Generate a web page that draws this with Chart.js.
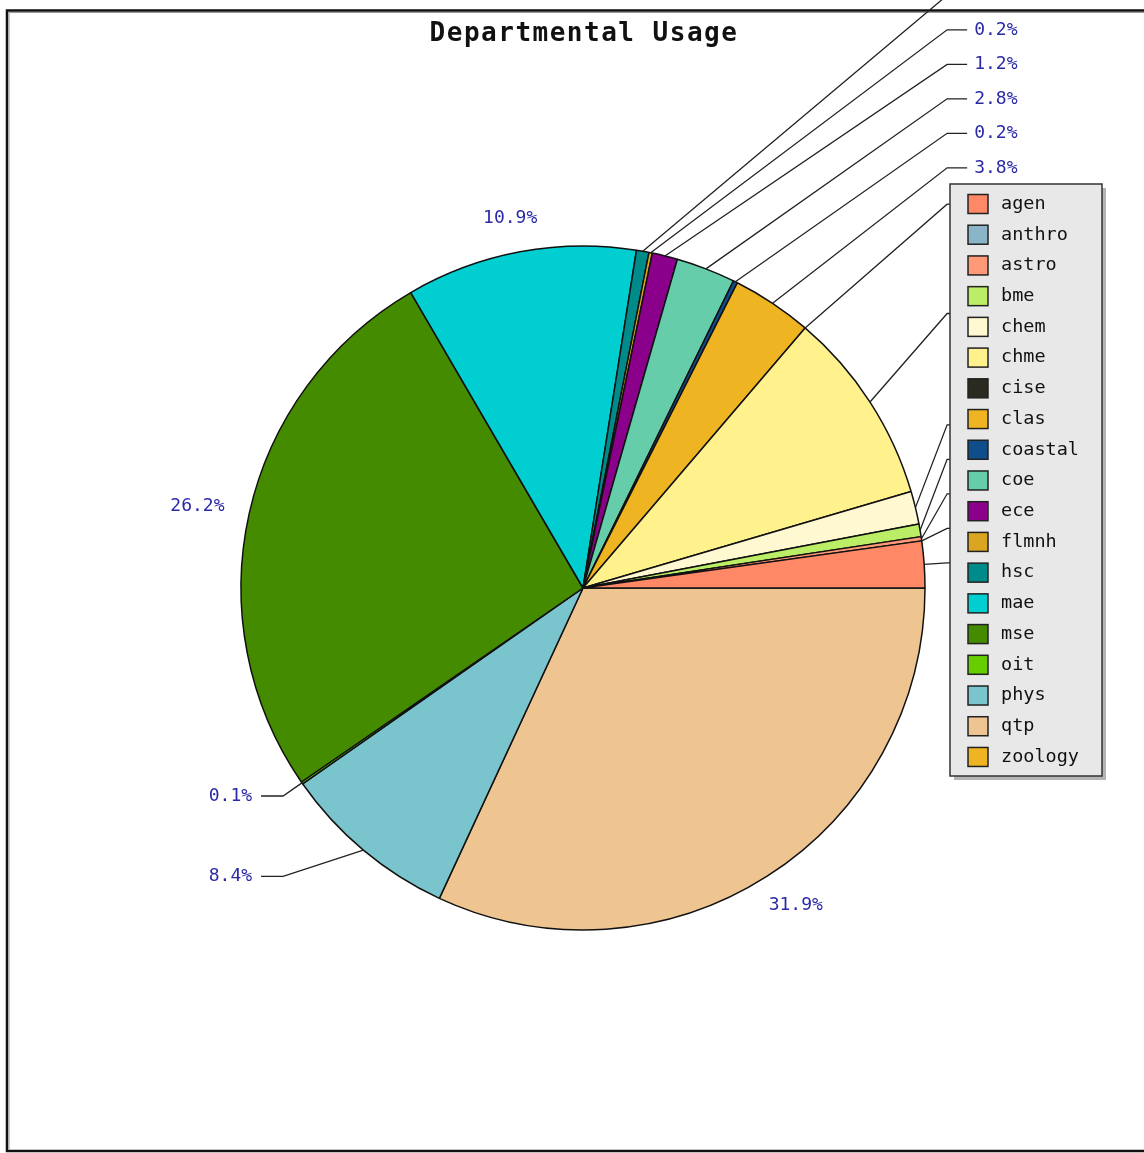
<!DOCTYPE html>
<html>
<head>
<meta charset="utf-8">
<title>Departmental Usage</title>
<script src="https://cdn.jsdelivr.net/npm/chart.js@4.4.1/dist/chart.umd.min.js"></script>
<style>
    html, body { margin: 0; padding: 0; background: #fff; }
    #wrap { position: relative; width: 1144px; height: 1153px; }
</style>
</head>
<body>
<div id="wrap"><canvas id="myChart"></canvas></div>
<script>
var chartTitle = 'Departmental Usage';

var departments = ['agen', 'anthro', 'astro', 'bme', 'chem', 'chme', 'cise', 'clas', 'coastal', 'coe',
    'ece', 'flmnh', 'hsc', 'mae', 'mse', 'oit', 'phys', 'qtp', 'zoology'];

// share of usage per department (percent)
var usage = [2.2, 0, 0.2, 0.6, 1.55, 9.2, 0, 3.8, 0.2, 2.8,
    1.2, 0.16, 0.59, 10.9, 26.2, 0.1, 8.4, 31.9, 0];

var sliceColors = ['#ff8866', '#8ab4c8', '#ff9977', '#bbee66', '#fff8d0', '#fff28c', '#2a2a20', '#eeb422', '#104e8b', '#66cdaa',
    '#8b008b', '#daa520', '#008b8b', '#00ced1', '#458b00', '#66cd00', '#7ac5cd', '#eec591', '#eeb422'];

var labelFont = '18px "DejaVu Sans Mono", "Liberation Mono", monospace';
var labelColor = '#2a2aa6';

// slices run counter-clockwise from 3 o'clock, chart.js goes clockwise, so feed it reversed
var revLabels = departments.slice().reverse();
var revUsage = usage.slice().reverse();
var revColors = sliceColors.slice().reverse();

function sliceInfo(chart) {
    var meta = chart.getDatasetMeta(0);
    var n = departments.length;
    var total = usage.reduce(function (s, v) { return s + v; }, 0);
    var items = [];
    for (var i = 0; i < n; i++) {
        var arc = meta.data[n - 1 - i];
        var p = arc.getProps(['x', 'y', 'startAngle', 'endAngle', 'outerRadius'], true);
        var mid = (p.startAngle + p.endAngle) / 2;
        items.push({
            a: 360 - mid * 180 / Math.PI,
            cx: p.x, cy: p.y, r: p.outerRadius,
            text: (usage[i] / total * 100).toFixed(1) + '%'
        });
    }
    return items;
}

function quadrant(a) {
    return Math.min(3, Math.floor(a / 90));
}

function drawValueLabels(chart) {
    var ctx = chart.ctx;
    var items = sliceInfo(chart);

    // group neighbouring slices into clusters (same quadrant, close angles)
    var clusters = [];
    var cur = [items[0]];
    for (var i = 1; i < items.length; i++) {
        var prev = items[i - 1], it = items[i];
        if (Math.abs(it.a - prev.a) < 25 && quadrant(it.a) === quadrant(prev.a)) {
            cur.push(it);
        } else {
            clusters.push(cur);
            cur = [it];
        }
    }
    clusters.push(cur);

    ctx.save();
    ctx.font = labelFont;
    ctx.textBaseline = 'middle';

    clusters.forEach(function (cl) {
        if (cl.length === 1) {
            var s = cl[0];
            var rad = s.a * Math.PI / 180;
            var R = s.r + 26;
            var w = ctx.measureText(s.text).width;
            var tx = s.cx + R * Math.cos(rad) + w / 2 * Math.cos(rad);
            var ty = s.cy - R * Math.sin(rad) - 8 * Math.sin(rad);
            ctx.fillStyle = labelColor;
            ctx.textAlign = 'center';
            ctx.fillText(s.text, tx, ty);
            return;
        }
        var q = quadrant(cl[0].a);
        var ordered = (q === 0 || q === 2) ? cl : cl.slice().reverse();
        var up = q <= 1;
        var vstep = 34.5;
        var first = ordered[0];
        var a0 = first.a * Math.PI / 180;
        var xt = first.cx + (first.r + 23) * Math.cos(a0);
        var right = Math.cos(a0) > 0;
        var yt = null;
        ordered.forEach(function (s) {
            var rad = s.a * Math.PI / 180;
            if (yt === null) {
                yt = s.cy - (s.r + 23) * Math.sin(rad);
            } else if (up) {
                var rr = s.a > 30 ? s.r * 1.476 : s.r + 23;
                yt = Math.min(yt - vstep, s.cy - rr * Math.sin(rad));
            } else {
                yt = Math.max(yt + vstep, s.cy - s.r * 1.10 * Math.sin(rad));
            }
            var x0 = s.cx + s.r * Math.cos(rad);
            var y0 = s.cy - s.r * Math.sin(rad);
            ctx.strokeStyle = '#222';
            ctx.lineWidth = 1.3;
            ctx.beginPath();
            ctx.moveTo(x0, y0);
            ctx.lineTo(xt, yt);
            ctx.lineTo(right ? xt + 20 : xt - 22, yt);
            ctx.stroke();
            ctx.fillStyle = labelColor;
            ctx.textAlign = right ? 'left' : 'right';
            ctx.fillText(s.text, right ? xt + 27 : xt - 31, yt);
        });
    });
    ctx.restore();
}

function drawLegendBox(chart) {
    var ctx = chart.ctx;
    var x = 950, y = 184, w = 152, h = 592;
    var rowH = 30.72;
    ctx.save();
    ctx.fillStyle = '#b4b4b4';
    ctx.fillRect(x + 4, y + 4, w, h);
    ctx.fillStyle = '#e8e8e8';
    ctx.fillRect(x, y, w, h);
    ctx.strokeStyle = '#333';
    ctx.lineWidth = 1.5;
    ctx.strokeRect(x, y, w, h);
    ctx.font = '18.5px "DejaVu Sans Mono", "Liberation Mono", monospace';
    ctx.textBaseline = 'middle';
    ctx.textAlign = 'left';
    departments.forEach(function (name, i) {
        var cy = y + 20 + i * rowH;
        ctx.fillStyle = sliceColors[i];
        ctx.fillRect(968, cy - 9.5, 20, 19);
        ctx.strokeStyle = '#222';
        ctx.lineWidth = 1.5;
        ctx.strokeRect(968, cy - 9.5, 20, 19);
        ctx.fillStyle = '#111';
        ctx.fillText(name, 1001, cy);
    });
    ctx.restore();
}

var framePlugin = {
    id: 'frame',
    beforeDraw: function (chart) {
        var ctx = chart.ctx;
        ctx.save();
        ctx.fillStyle = '#fff';
        ctx.fillRect(0, 0, chart.width, chart.height);
        ctx.strokeStyle = '#111';
        ctx.lineWidth = 2.5;
        ctx.beginPath();
        ctx.moveTo(chart.width + 5, 10.5);
        ctx.lineTo(7, 10.5);
        ctx.lineTo(7, 1151);
        ctx.lineTo(chart.width + 5, 1151);
        ctx.stroke();
        ctx.strokeStyle = '#9a9a9a';
        ctx.lineWidth = 1;
        ctx.beginPath();
        ctx.moveTo(chart.width + 5, 12.5);
        ctx.lineTo(9, 12.5);
        ctx.lineTo(9, 1149.5);
        ctx.stroke();
        ctx.restore();
    },
    afterDatasetsDraw: function (chart) {
        drawValueLabels(chart);
        drawLegendBox(chart);
        var ctx = chart.ctx;
        ctx.save();
        ctx.font = 'bold 26px "DejaVu Sans Mono", "Liberation Mono", monospace';
        if ('letterSpacing' in ctx) ctx.letterSpacing = '1.5px';
        ctx.fillStyle = '#111';
        ctx.textAlign = 'center';
        ctx.textBaseline = 'middle';
        ctx.fillText(chartTitle, 584, 34);
        ctx.restore();
    }
};

var ctx = document.getElementById('myChart');

var data = {
    labels: revLabels,
    datasets: [{
        data: revUsage,
        backgroundColor: revColors,
        borderColor: '#111',
        borderWidth: 1.5,
        radius: 342
    }]
};

var option = {
    responsive: true,
    maintainAspectRatio: false,
    animation: false,
    rotation: 90,
    layout: {
        padding: { left: 100, right: 78, top: 100, bottom: 77 }
    },
    plugins: {
        legend: { display: false },
        title: { display: false },
        tooltip: { enabled: false }
    }
};

var myChart = new Chart(ctx, {
    type: 'pie',
    data: data,
    options: option,
    plugins: [framePlugin]
});
</script>
</body>
</html>
